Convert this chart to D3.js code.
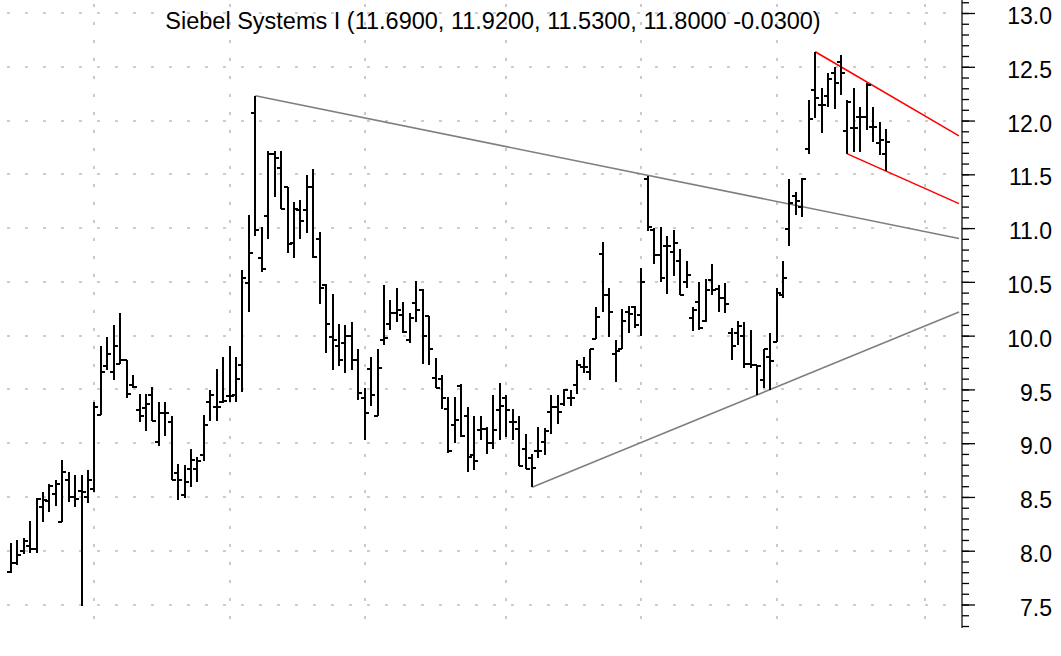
<!DOCTYPE html>
<html><head><meta charset="utf-8">
<script src="https://cdn.jsdelivr.net/npm/d3@7"></script>
<style>body{margin:0;background:#fff}</style>
</head><body>
<svg id="chart" width="1061" height="656"></svg>
<script>
// Daily OHLC prices, oldest first
const opens = [7.80,7.89,8.00,8.04,8.02,8.41,8.46,8.53,8.27,8.66,8.50,8.56,8.50,8.57,9.26,9.72,9.66,9.74,9.77,9.54,
  9.31,9.33,9.45,9.01,9.28,9.20,8.72,8.52,8.76,8.76,8.89,9.38,9.34,9.38,9.44,9.45,9.73,10.49,12.07,10.72,
  11.11,11.69,11.56,11.38,10.86,11.17,11.17,11.38,10.90,10.47,9.99,9.90,9.93,10.00,9.77,9.42,9.69,9.25,9.96,10.11,
  10.21,10.19,9.96,10.30,10.42,10.18,9.61,9.60,9.32,9.17,9.53,9.25,8.89,9.12,9.13,9.00,9.31,9.42,9.20,9.13,
  8.95,8.86,8.93,9.01,9.29,9.34,9.36,9.42,9.54,9.71,9.66,9.97,10.76,10.38,9.83,9.88,10.22,10.27,10.19,11.46,
  10.98,10.75,10.83,10.78,10.69,10.50,10.16,10.31,10.14,10.52,10.43,10.35,10.02,10.02,10.00,9.74,9.73,9.59,9.80,9.94,
  10.38,10.99,11.30,11.20,11.74,12.28,12.14,12.23,12.44,12.54,11.90,11.93,12.03,12.03,11.94,11.79,11.69];
const highs = [8.07,8.10,8.12,8.28,8.49,8.55,8.62,8.66,8.84,8.73,8.70,8.70,8.75,9.38,9.90,9.99,10.10,10.21,9.77,9.63,
  9.46,9.46,9.52,9.38,9.38,9.25,8.81,8.80,8.95,8.87,9.26,9.49,9.69,9.80,9.90,9.80,10.61,11.12,12.23,11.01,
  11.72,11.72,11.72,11.38,11.24,11.26,11.49,11.55,10.96,10.48,10.39,10.11,10.10,10.13,9.88,9.51,9.80,9.88,10.47,10.33,
  10.44,10.31,10.21,10.51,10.43,10.18,9.79,9.63,9.43,9.43,9.55,9.34,9.25,9.25,9.15,9.45,9.56,9.45,9.32,9.25,
  9.09,8.90,9.15,9.14,9.45,9.45,9.50,9.49,9.77,9.80,9.88,10.27,10.87,10.44,9.96,10.25,10.28,10.28,10.63,11.48,
  11.00,11.01,10.93,10.98,10.81,10.69,10.27,10.50,10.53,10.67,10.47,10.49,10.07,10.14,10.13,10.05,9.73,9.88,10.02,10.44,
  10.69,11.46,11.34,11.47,12.19,12.64,12.30,12.44,12.50,12.61,12.19,12.30,12.13,12.35,12.13,11.99,11.92];
const lows = [7.79,7.87,7.97,7.98,7.98,8.27,8.36,8.42,8.27,8.45,8.41,7.49,8.44,8.55,9.26,9.68,9.59,9.74,9.42,9.51,
  9.20,9.11,9.21,8.97,9.07,8.66,8.47,8.49,8.59,8.64,8.83,9.21,9.21,9.37,9.38,9.38,9.48,10.22,10.93,10.59,
  10.90,11.29,11.18,10.77,10.72,10.90,10.95,10.72,10.29,9.84,9.68,9.72,9.65,9.68,9.40,9.03,9.35,9.25,9.91,10.05,
  10.13,10.02,9.93,10.13,9.74,9.73,9.51,9.32,8.91,9.00,9.06,8.73,8.75,9.03,8.90,8.95,9.03,9.06,9.03,8.79,
  8.76,8.59,8.86,8.89,9.09,9.18,9.35,9.35,9.46,9.65,9.59,9.97,10.22,9.99,9.57,9.88,10.02,10.07,10.00,10.97,
  10.67,10.50,10.39,10.55,10.38,10.44,10.04,10.05,10.13,10.38,10.22,10.21,9.77,9.91,9.70,9.70,9.45,9.51,9.49,9.94,
  10.35,10.83,11.12,11.10,11.69,12.02,11.88,12.13,12.11,12.24,11.69,11.71,11.71,11.91,11.80,11.68,11.53];
const closes = [7.89,7.96,8.09,8.02,8.48,8.47,8.60,8.62,8.73,8.50,8.48,8.55,8.66,9.34,9.66,9.83,9.90,9.77,9.46,9.52,
  9.25,9.36,9.21,9.28,9.28,8.66,8.66,8.64,8.84,8.83,9.17,9.45,9.34,9.39,9.44,9.60,10.54,10.77,10.98,10.62,
  11.69,11.65,11.18,10.85,11.18,11.07,11.38,10.73,10.44,10.11,9.96,9.77,10.00,9.77,9.47,9.28,9.45,9.70,9.98,10.21,
  10.24,10.03,10.16,10.24,10.00,9.88,9.51,9.42,8.93,9.22,9.07,8.87,8.83,9.13,9.00,9.12,9.35,9.31,9.20,8.79,
  8.76,8.77,8.93,9.11,9.34,9.29,9.49,9.42,9.73,9.71,9.88,10.17,10.38,10.22,9.86,10.14,10.20,10.10,10.50,11.01,
  10.75,10.54,10.83,10.86,10.38,10.56,10.24,10.07,10.42,10.42,10.35,10.29,9.90,10.09,9.74,9.73,9.72,9.88,9.76,10.40,
  10.54,11.23,11.25,11.46,12.01,12.21,12.14,12.39,12.35,12.44,12.17,11.93,12.03,12.33,11.94,11.82,11.80];

// Bar indices where a new month begins (vertical grid lines)
const monthStarts = [13, 34, 55, 77, 98, 119, 142];
// Price axis: labelled levels and minor steps
const majorTicks = [7.5, 8.0, 8.5, 9.0, 9.5, 10.0, 10.5, 11.0, 11.5, 12.0, 12.5, 13.0];
const minorTicks = d3.range(73, 132).map(d => d / 10);
// Trend lines: [bar index, price] anchor pairs, extended to the price axis
const grayTrends = [[[38, 12.23], [99, 11.49]], [[81, 8.59], [116, 9.45]]];
const redTrends = [[[125, 12.64], [133, 12.36]], [[130, 11.69], [136, 11.53]]];
const title = "Siebel Systems I (11.6900, 11.9200, 11.5300, 11.8000 -0.0300)";

const bars = opens.map((o, i) => ({i, o, h: highs[i], l: lows[i], c: closes[i]}));

const axisX = 962, plotTop = 0, plotBottom = 628;
const svg = d3.select("#chart");
const x = d3.scaleLinear().domain([0, bars.length - 1]).range([10.8, 886]);
const y = d3.scaleLinear().domain([7.5, 13.0]).range([604.5, 13]);
const font = "'Liberation Sans', Arial, Helvetica, sans-serif";

// dotted grid
const grid = svg.append("g").attr("stroke", "#bdbdbd").attr("stroke-width", 1.6).attr("stroke-dasharray", "3,15");
grid.selectAll("line.h").data(majorTicks).join("line").attr("class", "h")
  .attr("x1", 7).attr("x2", axisX).attr("y1", d => Math.round(y(d))).attr("y2", d => Math.round(y(d)));
grid.selectAll("line.v").data(monthStarts).join("line").attr("class", "v")
  .attr("x1", d => Math.round(x(d))).attr("x2", d => Math.round(x(d)))
  .attr("y1", 4).attr("y2", plotBottom);

// price axis
const minorAxis = d3.axisRight(y).tickValues(minorTicks).tickSize(7).tickFormat("");
const majorAxis = d3.axisRight(y).tickValues(majorTicks).tickSize(13).tickFormat(d3.format(".1f"));
const ga = svg.append("g").attr("transform", `translate(${axisX},0)`);
ga.append("g").call(minorAxis).call(g => g.select(".domain").remove());
ga.append("g").call(majorAxis).call(g => g.select(".domain").remove());
ga.selectAll(".tick line").attr("stroke", "#000").attr("stroke-width", 1.3);
ga.selectAll(".tick text").attr("x", 90).attr("dy", "0.46em").attr("text-anchor", "end")
  .attr("font-family", font).attr("font-size", 23).attr("fill", "#000");
ga.append("line").attr("x1", 0).attr("x2", 0).attr("y1", plotTop).attr("y2", plotBottom)
  .attr("stroke", "#000").attr("stroke-width", 1.2);

// trend lines extended to the axis
const xEnd = x.invert(axisX - 3);
function extend(seg) {
  const [[i0, v0], [i1, v1]] = seg;
  const slope = (v1 - v0) / (i1 - i0);
  return [[i0, v0], [xEnd, v0 + slope * (xEnd - i0)]];
}
const lineGen = d3.line().x(d => x(d[0])).y(d => y(d[1]));
svg.append("g").selectAll("path").data(grayTrends.map(extend)).join("path")
  .attr("d", lineGen).attr("fill", "none").attr("stroke", "#7f7f7f").attr("stroke-width", 1.6);
svg.append("g").selectAll("path").data(redTrends.map(extend)).join("path")
  .attr("d", lineGen).attr("fill", "none").attr("stroke", "#ff0000").attr("stroke-width", 1.6);

// OHLC bars
const gb = svg.append("g").attr("stroke", "#000").attr("stroke-width", 2).attr("shape-rendering", "crispEdges");
const tick = 4;
gb.selectAll("line.hl").data(bars).join("line").attr("class", "hl")
  .attr("x1", d => Math.round(x(d.i))).attr("x2", d => Math.round(x(d.i)))
  .attr("y1", d => y(d.h)).attr("y2", d => y(d.l));
gb.selectAll("line.o").data(bars).join("line").attr("class", "o")
  .attr("x1", d => Math.round(x(d.i)) - tick).attr("x2", d => Math.round(x(d.i)))
  .attr("y1", d => y(d.o)).attr("y2", d => y(d.o));
gb.selectAll("line.c").data(bars).join("line").attr("class", "c")
  .attr("x1", d => Math.round(x(d.i))).attr("x2", d => Math.round(x(d.i)) + tick)
  .attr("y1", d => y(d.c)).attr("y2", d => y(d.c));

// title
svg.append("text").attr("x", 493).attr("y", 29).attr("text-anchor", "middle")
  .attr("font-family", font).attr("font-size", 23.5).attr("fill", "#000").text(title);
</script>
</body></html>
